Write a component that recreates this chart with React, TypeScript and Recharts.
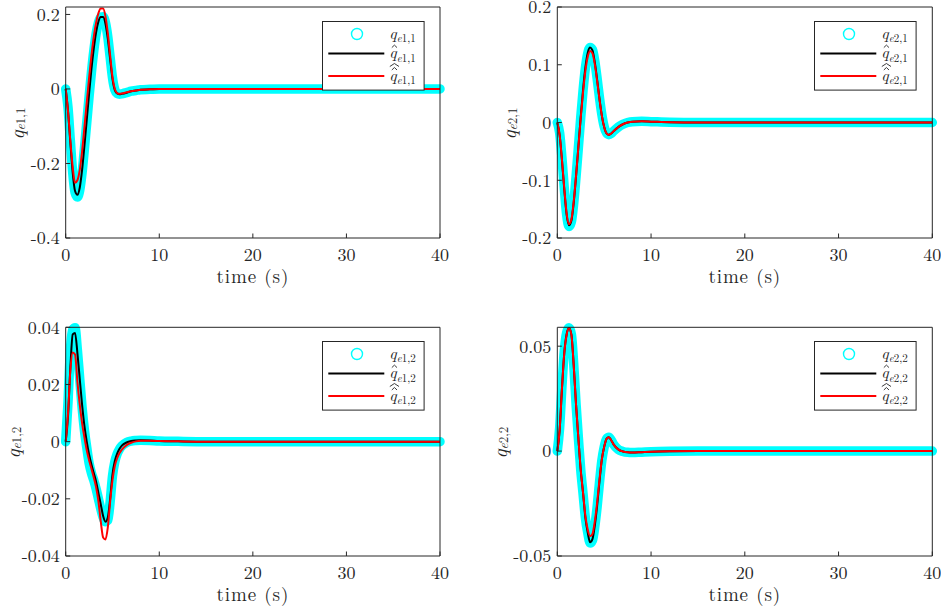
import { LineChart, Line, XAxis, YAxis } from "recharts"

// sample times (s)
const time = [
  0, 0.25, 0.5, 0.75, 1, 1.25, 1.5, 1.75, 2, 2.25, 2.5, 2.75, 3, 3.25, 3.5, 3.75, 4, 4.25, 4.5,
  4.75, 5, 5.25, 5.5, 5.75, 6, 6.5, 7, 7.5, 8, 9, 10, 12, 15, 20, 25, 30, 35, 40,
]

// q_e1,1
const qE11 = [
  0, -0.05, -0.14, -0.225, -0.278, -0.29, -0.272, -0.225, -0.16, -0.09, -0.02, 0.045, 0.102,
  0.148, 0.178, 0.193, 0.194, 0.178, 0.14, 0.085, 0.03, -0.002, -0.012, -0.014, -0.013, -0.01,
  -0.006, -0.004, -0.002, -0.001, 0, 0, 0, 0, 0, 0, 0, 0,
]
const qHatE11 = [
  0, -0.06, -0.145, -0.225, -0.274, -0.284, -0.265, -0.218, -0.153, -0.083, -0.013, 0.053, 0.108,
  0.152, 0.181, 0.193, 0.193, 0.175, 0.135, 0.08, 0.027, -0.003, -0.012, -0.014, -0.013, -0.01,
  -0.006, -0.004, -0.002, -0.001, 0, 0, 0, 0, 0, 0, 0, 0,
]
const qHat2E11 = [
  0, -0.06, -0.14, -0.21, -0.252, -0.245, -0.218, -0.168, -0.103, -0.036, 0.03, 0.09, 0.14, 0.178,
  0.204, 0.216, 0.216, 0.195, 0.15, 0.09, 0.032, 0, -0.011, -0.013, -0.012, -0.009, -0.006,
  -0.004, -0.002, -0.001, 0, 0, 0, 0, 0, 0, 0, 0,
]

// q_e2,1
const qE21 = [
  0, -0.018, -0.062, -0.115, -0.16, -0.18, -0.172, -0.14, -0.094, -0.043, 0.009, 0.056, 0.095,
  0.12, 0.13, 0.126, 0.106, 0.076, 0.043, 0.014, -0.007, -0.018, -0.021, -0.019, -0.015, -0.008,
  -0.003, 0, 0.0015, 0.002, 0.0015, 0.0005, 0, 0, 0, 0, 0, 0,
]
const qHatE21 = [
  0, -0.022, -0.066, -0.117, -0.16, -0.178, -0.17, -0.139, -0.093, -0.042, 0.01, 0.057, 0.096,
  0.121, 0.13, 0.125, 0.104, 0.074, 0.041, 0.012, -0.008, -0.019, -0.0215, -0.019, -0.015,
  -0.008, -0.003, 0, 0.0015, 0.002, 0.0015, 0.0005, 0, 0, 0, 0, 0, 0,
]
const qHat2E21 = [
  0, -0.022, -0.065, -0.115, -0.158, -0.176, -0.168, -0.137, -0.092, -0.042, 0.008, 0.053, 0.09,
  0.114, 0.124, 0.12, 0.101, 0.072, 0.04, 0.012, -0.008, -0.019, -0.0215, -0.019, -0.015, -0.008,
  -0.003, 0, 0.0015, 0.002, 0.0015, 0.0005, 0, 0, 0, 0, 0, 0,
]

// q_e1,2
const qE12 = [
  0, 0.014, 0.032, 0.0392, 0.0398, 0.032, 0.022, 0.012, 0.004, -0.002, -0.0075, -0.011, -0.0135,
  -0.0165, -0.02, -0.0235, -0.0265, -0.028, -0.0275, -0.021, -0.012, -0.007, -0.0043, -0.0026,
  -0.0015, -0.0003, 0.0002, 0.0004, 0.0005, 0.0004, 0.0002, 0.0001, 0, 0, 0, 0, 0, 0,
]
const qHatE12 = [
  0, 0.009, 0.026, 0.0375, 0.038, 0.031, 0.022, 0.013, 0.0055, 0, -0.0045, -0.008, -0.011, -0.014,
  -0.018, -0.022, -0.026, -0.028, -0.0265, -0.02, -0.0115, -0.0068, -0.0042, -0.0025, -0.0014,
  -0.0003, 0.0002, 0.0004, 0.0005, 0.0004, 0.0002, 0.0001, 0, 0, 0, 0, 0, 0,
]
const qHat2E12 = [
  0, 0.01, 0.025, 0.0312, 0.0305, 0.021, 0.013, 0.0065, 0.0015, -0.003, -0.0065, -0.0095, -0.0125,
  -0.016, -0.021, -0.028, -0.0335, -0.0342, -0.03, -0.021, -0.0135, -0.0085, -0.0058, -0.004,
  -0.0028, -0.0012, -0.0004, 0.0001, 0.0003, 0.0003, 0.0002, 0.0001, 0, 0, 0, 0, 0, 0,
]

// q_e2,2
const qE22 = [
  0, 0.011, 0.031, 0.048, 0.0565, 0.0588, 0.0558, 0.0415, 0.0225, 0.0062, -0.009, -0.0205,
  -0.032, -0.039, -0.0438, -0.0425, -0.036, -0.0265, -0.015, -0.0045, 0.002, 0.0058, 0.0066,
  0.0052, 0.0032, 0.0008, -0.0002, -0.0006, -0.0007, -0.0005, -0.0003, -0.0001, 0, 0, 0, 0, 0, 0,
]
const qHatE22 = [
  0, 0.01, 0.03, 0.047, 0.0558, 0.0587, 0.0556, 0.041, 0.022, 0.006, -0.009, -0.02, -0.032,
  -0.039, -0.0435, -0.042, -0.0355, -0.026, -0.0145, -0.004, 0.002, 0.0058, 0.0066, 0.0052,
  0.0032, 0.0008, -0.0002, -0.0006, -0.0007, -0.0005, -0.0003, -0.0001, 0, 0, 0, 0, 0, 0,
]
const qHat2E22 = [
  0, 0.01, 0.03, 0.047, 0.0555, 0.0585, 0.0555, 0.041, 0.022, 0.006, -0.009, -0.02, -0.031,
  -0.0375, -0.0405, -0.0395, -0.0335, -0.0245, -0.0135, -0.004, 0.002, 0.0058, 0.0066, 0.0052,
  0.0032, 0.0008, -0.0002, -0.0006, -0.0007, -0.0005, -0.0003, -0.0001, 0, 0, 0, 0, 0, 0,
]

const timeTicks = [0, 10, 20, 30, 40]
const ticksE11 = [-0.4, -0.2, 0, 0.2]
const ticksE21 = [-0.2, -0.1, 0, 0.1, 0.2]
const ticksE12 = [-0.04, -0.02, 0, 0.02, 0.04]
const ticksE22 = [-0.05, 0, 0.05]

const FONT = "'Latin Modern Roman', 'CMU Serif', 'Liberation Serif', 'DejaVu Serif', serif"
const AXIS = "#262626"
const TICK = 4.5
const Y_AXIS_W = 60
const X_AXIS_H = 30
const CYAN = "#00ffff"

type Plot = { l: number; t: number; r: number; b: number }
type Layout = { left: number; top: number; width: number; height: number; plot: Plot; yTitleX: number }

const layouts: Layout[] = [
  { left: 0, top: 0, width: 470, height: 300, plot: { l: 65.7, t: 7, r: 440, b: 238 }, yTitleX: 15 },
  { left: 470, top: 0, width: 471, height: 300, plot: { l: 87.3, t: 7, r: 462.3, b: 238 }, yTitleX: 36.7 },
  { left: 0, top: 300, width: 470, height: 308, plot: { l: 65.7, t: 27.3, r: 440, b: 256 }, yTitleX: 11.5 },
  { left: 470, top: 300, width: 471, height: 308, plot: { l: 87.3, t: 27.3, r: 462.3, b: 256 }, yTitleX: 28 },
]

const panels = [
  { sub: "1,1", q: qE11, qh: qHatE11, qhh: qHat2E11, domain: [-0.4, 0.22], ticks: ticksE11 },
  { sub: "2,1", q: qE21, qh: qHatE21, qhh: qHat2E21, domain: [-0.2, 0.2], ticks: ticksE21 },
  { sub: "1,2", q: qE12, qh: qHatE12, qhh: qHat2E12, domain: [-0.04, 0.04], ticks: ticksE12 },
  { sub: "2,2", q: qE22, qh: qHatE22, qhh: qHat2E22, domain: [-0.05, 0.059], ticks: ticksE22 },
]

function QText({ x, y, sub, size, subSize, hats }: { x: number; y: number; sub: string; size: number; subSize: number; hats: number }) {
  const cx = x + size * 0.32
  const s = size / 16
  return (
    <g>
      <text x={x} y={y} fontFamily={FONT} fill={AXIS}>
        <tspan fontStyle="italic" fontSize={size}>q</tspan>
        <tspan fontStyle="italic" fontSize={subSize} dy={subSize * 0.32}>e</tspan>
        <tspan fontSize={subSize}>{sub}</tspan>
      </text>
      {hats >= 1 && (
        <polyline
          points={`${cx - 2.6 * s},${y - 10.5 * s} ${cx},${y - 13 * s} ${cx + 2.6 * s},${y - 10.5 * s}`}
          fill="none"
          stroke={AXIS}
          strokeWidth={0.9}
        />
      )}
      {hats >= 2 && (
        <polyline
          points={`${cx - 4.6 * s},${y - 14 * s} ${cx},${y - 17 * s} ${cx + 4.6 * s},${y - 14 * s}`}
          fill="none"
          stroke={AXIS}
          strokeWidth={0.9}
        />
      )}
    </g>
  )
}

function LegendBox({ left, top, sub }: { left: number; top: number; sub: string }) {
  const rows = [13, 32.6, 55]
  return (
    <svg style={{ position: "absolute", left, top }} width={104} height={71}>
      <rect x={0.5} y={0.5} width={101.6} height={68.6} fill="#fff" stroke={AXIS} strokeWidth={1} />
      <circle cx={35} cy={rows[0]} r={5.5} fill="none" stroke={CYAN} strokeWidth={1.4} />
      <line x1={6.3} x2={62.3} y1={rows[1]} y2={rows[1]} stroke="#000" strokeWidth={2} />
      <line x1={6.3} x2={62.3} y1={rows[2]} y2={rows[2]} stroke="#ff0000" strokeWidth={2} />
      {rows.map((ry, i) => (
        <QText key={i} x={67.3} y={ry + 4.5} sub={sub} size={16} subSize={11} hats={i} />
      ))}
    </svg>
  )
}

function Panel({ panel, layout }: { panel: (typeof panels)[number]; layout: Layout }) {
  const { width, height, plot } = layout
  const rows = time.map((t, i) => ({ t, q: panel.q[i], qh: panel.qh[i], qhh: panel.qhh[i] }))
  const cxPlot = (plot.l + plot.r) / 2
  const cyPlot = (plot.t + plot.b) / 2 + 1
  const tickStyle = { fill: AXIS, fontSize: 18, fontFamily: FONT }
  return (
    <div style={{ position: "absolute", left: layout.left, top: layout.top, width, height }}>
      <LineChart
        width={width}
        height={height}
        data={rows}
        margin={{
          top: plot.t - 1,
          right: width - plot.r - 1,
          bottom: height - plot.b - X_AXIS_H,
          left: plot.l - Y_AXIS_W,
        }}
      >
        <XAxis
          dataKey="t"
          type="number"
          domain={[0, 40]}
          ticks={timeTicks}
          interval={0}
          height={X_AXIS_H}
          tickSize={-TICK}
          tickMargin={14.5}
          stroke={AXIS}
          tick={tickStyle}
          label={() => (
            <text x={cxPlot} y={plot.b + 45} textAnchor="middle" fontFamily={FONT} fontSize={19} letterSpacing={0.9} fill={AXIS}>
              time (s)
            </text>
          )}
        />
        <XAxis
          xAxisId="top"
          orientation="top"
          dataKey="t"
          type="number"
          domain={[0, 40]}
          ticks={timeTicks}
          interval={0}
          height={1}
          tickSize={-TICK}
          tick={false}
          stroke={AXIS}
        />
        <YAxis
          type="number"
          domain={panel.domain}
          ticks={panel.ticks}
          interval={0}
          width={Y_AXIS_W}
          tickSize={-TICK}
          tickMargin={10.5}
          stroke={AXIS}
          tick={tickStyle}
          label={() => (
            <g transform={`rotate(-90 ${layout.yTitleX} ${cyPlot})`}>
              <text x={layout.yTitleX} y={cyPlot} textAnchor="middle" dominantBaseline="central" fontFamily={FONT} fill={AXIS}>
                <tspan fontStyle="italic" fontSize={20}>q</tspan>
                <tspan fontStyle="italic" fontSize={13} dy={4}>e</tspan>
                <tspan fontSize={13}>{panel.sub}</tspan>
              </text>
            </g>
          )}
        />
        <YAxis
          yAxisId="right"
          orientation="right"
          type="number"
          domain={panel.domain}
          ticks={panel.ticks}
          interval={0}
          width={1}
          tickSize={-TICK}
          tick={false}
          stroke={AXIS}
        />
        <Line
          type="monotone"
          dataKey="q"
          stroke={CYAN}
          strokeWidth={9.5}
          strokeLinecap="round"
          strokeLinejoin="round"
          dot={false}
          activeDot={false}
          isAnimationActive={false}
        />
        <Line type="monotone" dataKey="qh" stroke="#000" strokeWidth={2} dot={false} activeDot={false} isAnimationActive={false} />
        <Line type="monotone" dataKey="qhh" stroke="#ff0000" strokeWidth={2} dot={false} activeDot={false} isAnimationActive={false} />
      </LineChart>
      <LegendBox left={plot.r - 16.7 - 101.6} top={plot.t + 13.7} sub={panel.sub} />
    </div>
  )
}

export default function App() {
  return (
    <div style={{ position: "absolute", left: 0, top: 0, width: 941, height: 608, background: "#fff" }}>
      {panels.map((p, i) => (
        <Panel key={i} panel={p} layout={layouts[i]} />
      ))}
    </div>
  )
}
